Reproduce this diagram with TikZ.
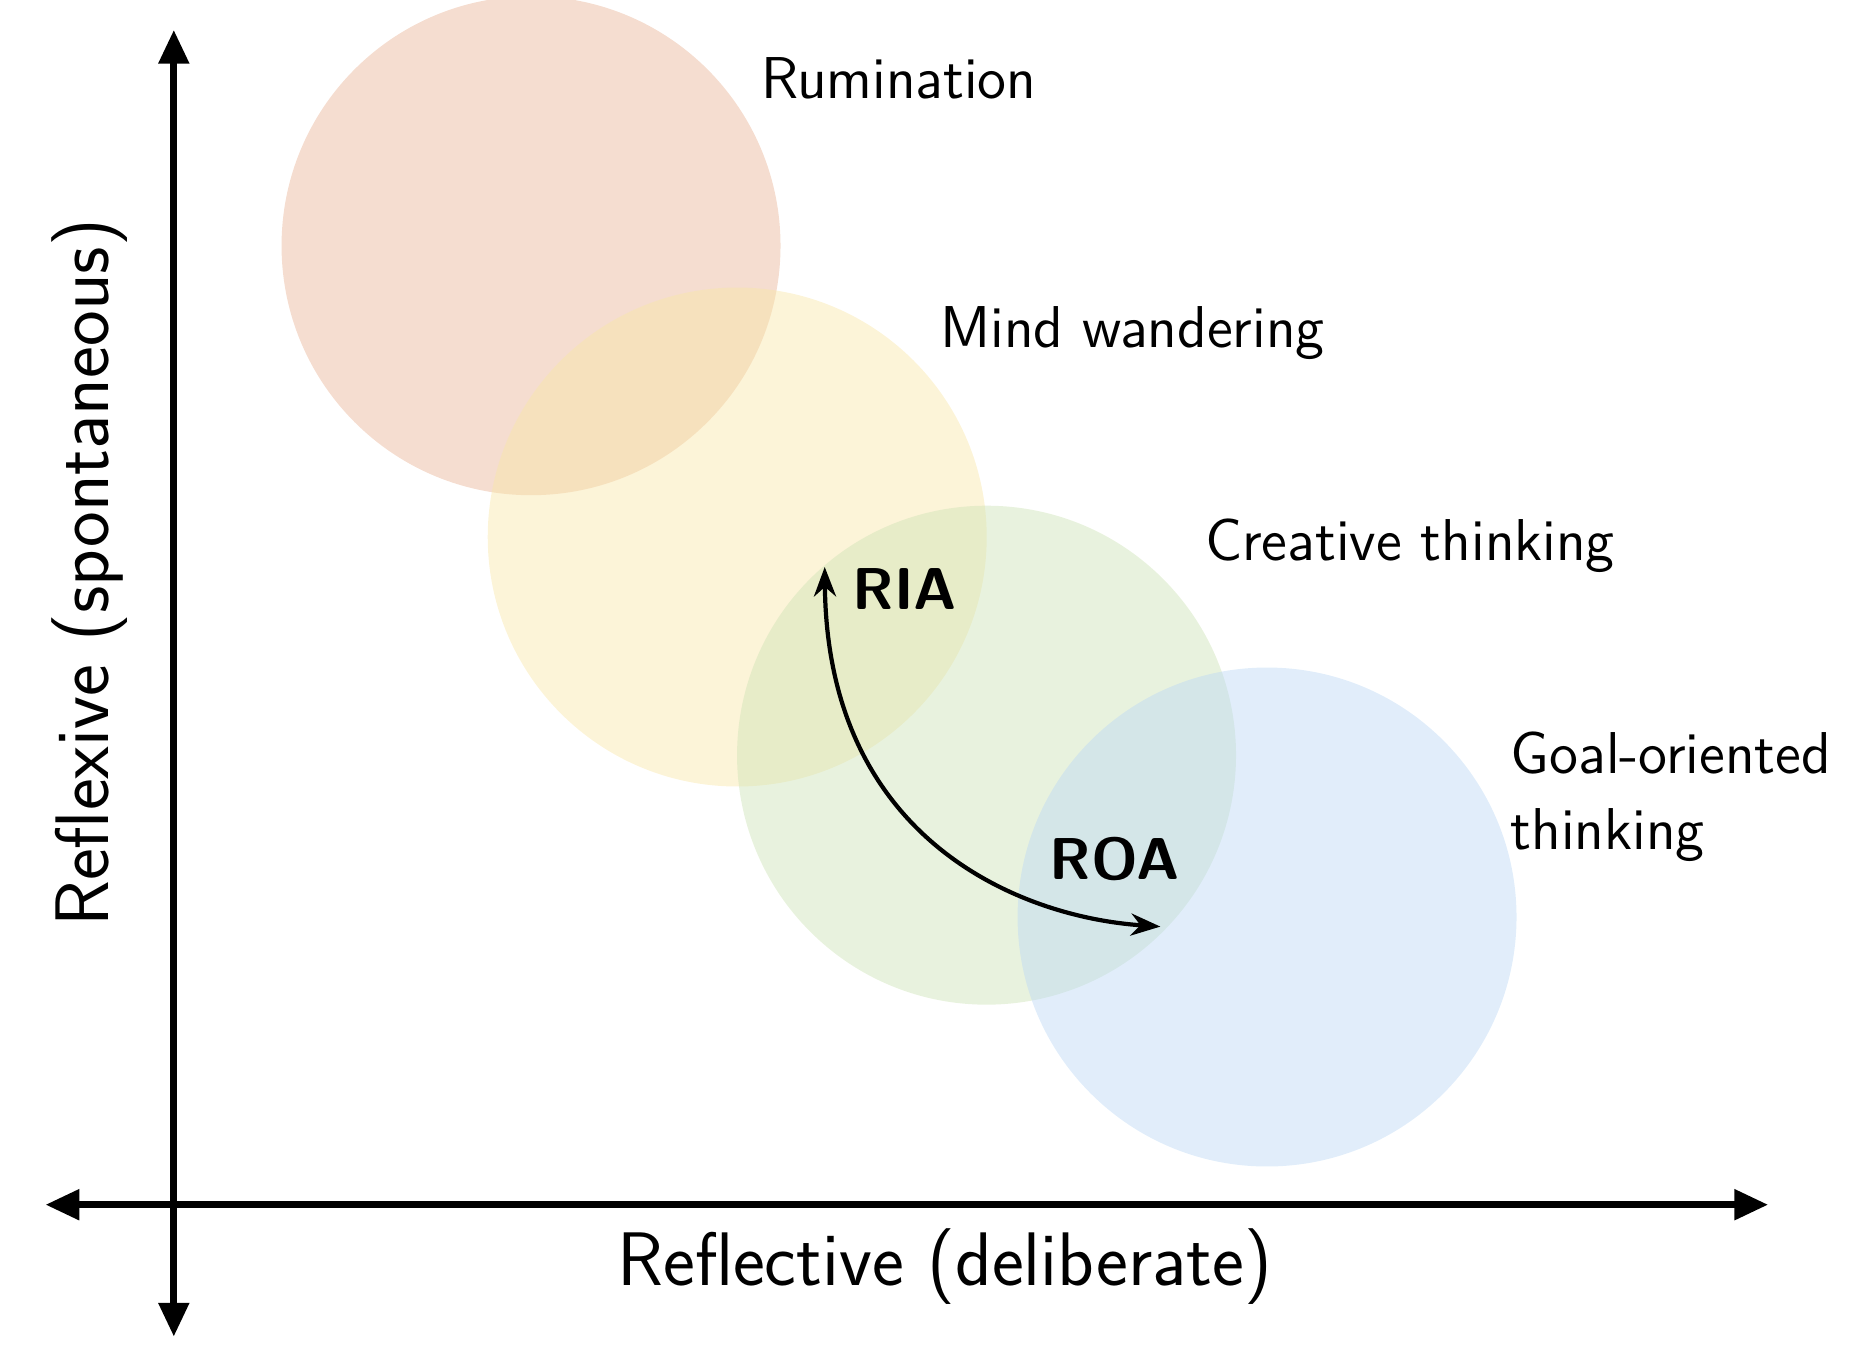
\documentclass[tikz,border=0pt]{standalone}
\usetikzlibrary{arrows.meta}
\renewcommand{\familydefault}{\sfdefault}
\begin{document}
\begin{tikzpicture}[x=0.01cm,y=-0.01cm,
  blob/.style={circle,minimum size=4.16cm,inner sep=0pt,fill opacity=0.45},
  lab/.style={font=\fontsize{14}{16}\selectfont,anchor=west},
  big/.style={font=\fontsize{18}{20}\selectfont},
  ax/.style={line width=1.6pt,{Triangle[width=7pt,length=8pt]}-{Triangle[width=7pt,length=8pt]}}]
\useasboundingbox (0,0) rectangle (1560,1131);
\definecolor{cR}{HTML}{E8B496}\definecolor{cM}{HTML}{F9E6A8}
\definecolor{cC}{HTML}{CDE3B5}\definecolor{cG}{HTML}{BCD8F5}
\node[blob,fill=cR] (rum) at (443,205) {};
\node[blob,fill=cM] (mw) at (615,448) {};
\node[blob,fill=cC] (ct) at (823,630) {};
\node[blob,fill=cG] (go) at (1057,765) {};
\coordinate (vt) at (145,25);\coordinate (vb) at (145,1115);
\coordinate (hl) at (38,1005);\coordinate (hr) at (1475,1005);
\draw[ax] (vb) -- (vt);
\draw[ax] (hl) -- (hr);
\node[big,rotate=90] (ylab) at (75,478) {Reflexive (spontaneous)};
\node[big] (xlab) at (788,1057) {Reflective (deliberate)};
\node[lab] (tr) at (623,65) {Rumination};
\node[lab] (tm) at (772,278) {Mind wandering};
\node[lab] (tc) at (993,455) {Creative thinking};
\node[lab,align=left] (tg) at (1248,665) {Goal-oriented\\[2pt]thinking};
\node[font=\fontsize{14}{16}\selectfont\bfseries] (ria) at (755,491) {RIA};
\node[font=\fontsize{14}{16}\selectfont\bfseries] (roa) at (930,717) {ROA};
\coordinate (a) at (688,473);\coordinate (b) at (968,773);
\draw[line width=1pt,{Stealth[length=7pt]}-{Stealth[length=7pt]}] (a) .. controls (690,700) and (850,765) .. (b);
\end{tikzpicture}
\end{document}
